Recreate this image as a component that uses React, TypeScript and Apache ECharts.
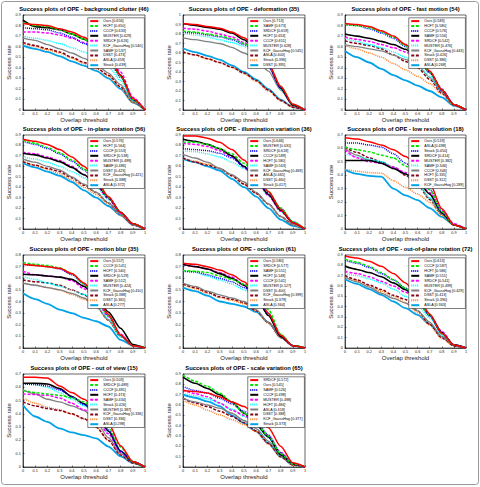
import React, { useEffect, useRef } from "react";
import * as echarts from "echarts";

// Overlap thresholds sampled along every success curve
const thresholds = [0, 0.1, 0.2, 0.3, 0.4, 0.5, 0.6, 0.7, 0.8, 0.9, 1];

// ---- background clutter ----
const clutterNames = ["Ours", "HCFT", "CCCF", "MUSTER", "SRDCF", "KCF_GaussHog", "SAMF", "DSST", "ASLA", "Struck"];
const clutterScores = [0.656, 0.65, 0.633, 0.629, 0.626, 0.54, 0.537, 0.473, 0.459, 0.439];
const clutterCurves = [
  [0.82, 0.81, 0.8, 0.77, 0.74, 0.69, 0.62, 0.51, 0.33, 0.11, 0],
  [0.83, 0.8, 0.79, 0.76, 0.72, 0.67, 0.6, 0.49, 0.32, 0.1, 0],
  [0.78, 0.77, 0.76, 0.73, 0.69, 0.63, 0.57, 0.47, 0.31, 0.1, 0],
  [0.85, 0.79, 0.78, 0.76, 0.72, 0.67, 0.6, 0.5, 0.33, 0.1, 0],
  [0.74, 0.74, 0.73, 0.71, 0.68, 0.64, 0.58, 0.5, 0.36, 0.12, 0],
  [0.7, 0.68, 0.66, 0.63, 0.59, 0.55, 0.49, 0.41, 0.28, 0.09, 0],
  [0.68, 0.66, 0.62, 0.58, 0.54, 0.49, 0.43, 0.35, 0.24, 0.08, 0],
  [0.64, 0.61, 0.58, 0.55, 0.5, 0.45, 0.4, 0.33, 0.22, 0.08, 0],
  [0.63, 0.6, 0.57, 0.54, 0.49, 0.44, 0.39, 0.32, 0.21, 0.07, 0],
  [0.61, 0.58, 0.55, 0.51, 0.46, 0.42, 0.37, 0.3, 0.2, 0.07, 0],
];

// ---- deformation ----
const deformNames = ["Ours", "SAMF", "SRDCF", "HCFT", "CCCF", "MUSTER", "KCF_GaussHog", "ASLA", "Struck", "DSST"];
const deformScores = [0.713, 0.673, 0.659, 0.653, 0.651, 0.628, 0.545, 0.4, 0.396, 0.395];
const deformCurves = [
  [0.91, 0.9, 0.88, 0.86, 0.82, 0.76, 0.66, 0.49, 0.25, 0.06, 0],
  [0.83, 0.82, 0.8, 0.78, 0.75, 0.7, 0.62, 0.47, 0.25, 0.06, 0],
  [0.82, 0.81, 0.79, 0.77, 0.74, 0.69, 0.61, 0.46, 0.24, 0.06, 0],
  [0.91, 0.89, 0.87, 0.85, 0.81, 0.74, 0.64, 0.47, 0.23, 0.05, 0],
  [0.86, 0.85, 0.83, 0.8, 0.77, 0.71, 0.62, 0.46, 0.23, 0.05, 0],
  [0.81, 0.79, 0.77, 0.74, 0.71, 0.67, 0.59, 0.45, 0.22, 0.05, 0],
  [0.76, 0.74, 0.72, 0.7, 0.66, 0.6, 0.53, 0.41, 0.21, 0.05, 0],
  [0.61, 0.58, 0.54, 0.5, 0.45, 0.39, 0.31, 0.21, 0.1, 0.03, 0],
  [0.61, 0.58, 0.54, 0.5, 0.45, 0.38, 0.3, 0.2, 0.1, 0.03, 0],
  [0.65, 0.61, 0.57, 0.53, 0.47, 0.4, 0.32, 0.22, 0.11, 0.03, 0],
];

// ---- fast motion ----
const fastNames = ["Ours", "HCFT", "CCCF", "SAMF", "SRDCF", "MUSTER", "KCF_GaussHog", "Struck", "DSST", "ASLA"];
const fastScores = [0.583, 0.58, 0.576, 0.556, 0.542, 0.476, 0.443, 0.426, 0.386, 0.268];
const fastCurves = [
  [0.82, 0.81, 0.79, 0.75, 0.7, 0.62, 0.52, 0.37, 0.19, 0.05, 0],
  [0.81, 0.8, 0.78, 0.74, 0.69, 0.61, 0.51, 0.36, 0.19, 0.05, 0],
  [0.81, 0.8, 0.77, 0.73, 0.68, 0.6, 0.5, 0.35, 0.18, 0.05, 0],
  [0.72, 0.7, 0.68, 0.65, 0.62, 0.575, 0.49, 0.36, 0.19, 0.05, 0],
  [0.69, 0.67, 0.65, 0.62, 0.59, 0.55, 0.48, 0.36, 0.2, 0.05, 0],
  [0.68, 0.65, 0.62, 0.59, 0.55, 0.5, 0.43, 0.32, 0.18, 0.05, 0],
  [0.62, 0.6, 0.58, 0.56, 0.52, 0.48, 0.42, 0.31, 0.17, 0.05, 0],
  [0.655, 0.63, 0.61, 0.58, 0.52, 0.46, 0.4, 0.29, 0.16, 0.05, 0],
  [0.61, 0.58, 0.54, 0.5, 0.44, 0.38, 0.32, 0.25, 0.15, 0.04, 0],
  [0.56, 0.5, 0.45, 0.39, 0.33, 0.28, 0.23, 0.18, 0.12, 0.04, 0],
];

// ---- in-plane rotation ----
const inplaneNames = ["Ours", "HCFT", "CCCF", "SRDCF", "MUSTER", "SAMF", "DSST", "KCF_GaussHog", "Struck", "ASLA"];
const inplaneScores = [0.576, 0.564, 0.553, 0.538, 0.499, 0.486, 0.423, 0.421, 0.388, 0.372];
const inplaneCurves = [
  [0.86, 0.84, 0.81, 0.76, 0.69, 0.6, 0.47, 0.31, 0.16, 0.05, 0],
  [0.85, 0.82, 0.78, 0.73, 0.66, 0.575, 0.46, 0.3, 0.16, 0.05, 0],
  [0.84, 0.81, 0.77, 0.72, 0.65, 0.565, 0.45, 0.3, 0.16, 0.05, 0],
  [0.725, 0.71, 0.68, 0.645, 0.59, 0.52, 0.43, 0.3, 0.16, 0.05, 0],
  [0.735, 0.72, 0.69, 0.655, 0.6, 0.52, 0.42, 0.29, 0.15, 0.05, 0],
  [0.69, 0.67, 0.64, 0.6, 0.55, 0.49, 0.4, 0.28, 0.15, 0.05, 0],
  [0.67, 0.64, 0.6, 0.565, 0.5, 0.43, 0.35, 0.25, 0.14, 0.04, 0],
  [0.645, 0.61, 0.58, 0.55, 0.49, 0.42, 0.35, 0.25, 0.14, 0.04, 0],
  [0.65, 0.61, 0.57, 0.53, 0.47, 0.4, 0.33, 0.24, 0.13, 0.04, 0],
  [0.63, 0.59, 0.55, 0.51, 0.45, 0.37, 0.3, 0.22, 0.13, 0.04, 0],
];

// ---- illumination variation ----
const illumNames = ["Ours", "MUSTER", "SRDCF", "CCCF", "HCFT", "SAMF", "KCF_GaussHog", "ASLA", "DSST", "Struck"];
const illumScores = [0.646, 0.631, 0.618, 0.589, 0.58, 0.563, 0.469, 0.465, 0.46, 0.417];
const illumCurves = [
  [0.89, 0.89, 0.87, 0.83, 0.76, 0.66, 0.52, 0.36, 0.19, 0.06, 0],
  [0.83, 0.83, 0.81, 0.77, 0.72, 0.63, 0.51, 0.36, 0.2, 0.07, 0],
  [0.77, 0.76, 0.75, 0.725, 0.68, 0.6, 0.49, 0.35, 0.2, 0.07, 0],
  [0.86, 0.84, 0.81, 0.77, 0.7, 0.6, 0.48, 0.33, 0.18, 0.06, 0],
  [0.82, 0.81, 0.79, 0.75, 0.69, 0.59, 0.47, 0.32, 0.17, 0.06, 0],
  [0.75, 0.74, 0.72, 0.69, 0.64, 0.58, 0.47, 0.32, 0.17, 0.06, 0],
  [0.715, 0.68, 0.64, 0.58, 0.52, 0.45, 0.35, 0.24, 0.12, 0.04, 0],
  [0.68, 0.64, 0.61, 0.58, 0.51, 0.43, 0.34, 0.24, 0.12, 0.04, 0],
  [0.68, 0.65, 0.62, 0.58, 0.51, 0.43, 0.34, 0.24, 0.12, 0.04, 0],
  [0.67, 0.64, 0.6, 0.56, 0.48, 0.4, 0.31, 0.2, 0.09, 0.03, 0],
];

// ---- low resolution ----
const lowresNames = ["Ours", "ASLA", "Struck", "SRDCF", "MUSTER", "SAMF", "CCCF", "HCFT", "DSST", "KCF_GaussHog"];
const lowresScores = [0.519, 0.498, 0.45, 0.414, 0.382, 0.346, 0.346, 0.335, 0.312, 0.289];
const lowresCurves = [
  [0.68, 0.67, 0.65, 0.625, 0.59, 0.54, 0.47, 0.34, 0.15, 0.03, 0],
  [0.61, 0.59, 0.575, 0.55, 0.53, 0.47, 0.4, 0.29, 0.13, 0.03, 0],
  [0.64, 0.64, 0.625, 0.61, 0.56, 0.49, 0.42, 0.3, 0.13, 0.03, 0],
  [0.51, 0.51, 0.51, 0.49, 0.45, 0.41, 0.36, 0.26, 0.12, 0.03, 0],
  [0.59, 0.53, 0.5, 0.49, 0.46, 0.42, 0.36, 0.27, 0.14, 0.04, 0],
  [0.56, 0.54, 0.52, 0.5, 0.46, 0.41, 0.34, 0.23, 0.12, 0.03, 0],
  [0.6, 0.55, 0.51, 0.49, 0.46, 0.41, 0.34, 0.23, 0.11, 0.03, 0],
  [0.61, 0.57, 0.53, 0.5, 0.46, 0.4, 0.33, 0.22, 0.11, 0.03, 0],
  [0.445, 0.43, 0.42, 0.415, 0.36, 0.31, 0.26, 0.2, 0.1, 0.03, 0],
  [0.44, 0.41, 0.395, 0.39, 0.3, 0.25, 0.215, 0.155, 0.09, 0.03, 0],
];

// ---- motion blur ----
const blurNames = ["Ours", "CCCF", "HCFT", "SRDCF", "SAMF", "MUSTER", "KCF_GaussHog", "Struck", "DSST", "ASLA"];
const blurScores = [0.557, 0.541, 0.54, 0.529, 0.512, 0.424, 0.41, 0.388, 0.365, 0.277];
const blurCurves = [
  [0.72, 0.71, 0.7, 0.685, 0.64, 0.56, 0.44, 0.29, 0.11, 0.02, 0],
  [0.735, 0.72, 0.71, 0.69, 0.64, 0.55, 0.43, 0.28, 0.11, 0.02, 0],
  [0.72, 0.71, 0.7, 0.68, 0.63, 0.55, 0.43, 0.28, 0.11, 0.02, 0],
  [0.635, 0.63, 0.62, 0.61, 0.59, 0.53, 0.44, 0.31, 0.17, 0.03, 0],
  [0.66, 0.63, 0.62, 0.61, 0.58, 0.51, 0.41, 0.27, 0.12, 0.02, 0],
  [0.615, 0.59, 0.56, 0.53, 0.5, 0.46, 0.38, 0.25, 0.1, 0.02, 0],
  [0.557, 0.54, 0.52, 0.5, 0.47, 0.43, 0.36, 0.24, 0.1, 0.02, 0],
  [0.585, 0.57, 0.56, 0.54, 0.5, 0.46, 0.36, 0.24, 0.1, 0.02, 0],
  [0.56, 0.54, 0.52, 0.5, 0.46, 0.42, 0.35, 0.24, 0.1, 0.02, 0],
  [0.47, 0.42, 0.38, 0.33, 0.3, 0.26, 0.23, 0.185, 0.07, 0.02, 0],
];

// ---- occlusion ----
const occlNames = ["Ours", "SRDCF", "SAMF", "HCFT", "CCCF", "MUSTER", "DSST", "KCF_GaussHog", "Struck", "ASLA"];
const occlScores = [0.58, 0.577, 0.551, 0.548, 0.541, 0.527, 0.4, 0.399, 0.379, 0.364];
const occlCurves = [
  [0.73, 0.72, 0.7, 0.67, 0.63, 0.57, 0.47, 0.3, 0.11, 0.02, 0],
  [0.665, 0.66, 0.65, 0.62, 0.59, 0.55, 0.47, 0.33, 0.12, 0.02, 0],
  [0.66, 0.655, 0.63, 0.6, 0.57, 0.52, 0.44, 0.3, 0.11, 0.02, 0],
  [0.72, 0.7, 0.68, 0.64, 0.6, 0.54, 0.44, 0.28, 0.1, 0.02, 0],
  [0.715, 0.7, 0.68, 0.65, 0.61, 0.54, 0.44, 0.28, 0.1, 0.02, 0],
  [0.665, 0.65, 0.62, 0.585, 0.55, 0.5, 0.42, 0.29, 0.1, 0.02, 0],
  [0.557, 0.53, 0.49, 0.457, 0.43, 0.4, 0.33, 0.22, 0.09, 0.02, 0],
  [0.55, 0.52, 0.48, 0.44, 0.42, 0.39, 0.32, 0.22, 0.09, 0.02, 0],
  [0.545, 0.51, 0.47, 0.435, 0.41, 0.38, 0.32, 0.21, 0.09, 0.02, 0],
  [0.52, 0.49, 0.45, 0.4, 0.38, 0.357, 0.31, 0.22, 0.1, 0.02, 0],
];

// ---- out-of-plane rotation ----
const outplaneNames = ["Ours", "CCCF", "HCFT", "SAMF", "SRDCF", "MUSTER", "KCF_GaussHog", "DSST", "Struck", "ASLA"];
const outplaneScores = [0.613, 0.587, 0.586, 0.551, 0.541, 0.499, 0.429, 0.413, 0.39, 0.363];
const outplaneCurves = [
  [0.89, 0.87, 0.84, 0.79, 0.72, 0.63, 0.5, 0.33, 0.14, 0.03, 0],
  [0.86, 0.83, 0.79, 0.73, 0.66, 0.58, 0.47, 0.32, 0.14, 0.03, 0],
  [0.85, 0.82, 0.78, 0.72, 0.66, 0.58, 0.46, 0.31, 0.14, 0.03, 0],
  [0.79, 0.76, 0.73, 0.69, 0.63, 0.565, 0.46, 0.32, 0.15, 0.03, 0],
  [0.74, 0.72, 0.69, 0.645, 0.6, 0.54, 0.45, 0.32, 0.16, 0.03, 0],
  [0.717, 0.7, 0.67, 0.63, 0.57, 0.5, 0.41, 0.29, 0.13, 0.03, 0],
  [0.685, 0.64, 0.59, 0.53, 0.48, 0.435, 0.36, 0.25, 0.11, 0.03, 0],
  [0.7, 0.66, 0.61, 0.565, 0.51, 0.47, 0.36, 0.23, 0.1, 0.02, 0],
  [0.69, 0.65, 0.6, 0.55, 0.5, 0.44, 0.34, 0.22, 0.09, 0.02, 0],
  [0.665, 0.62, 0.57, 0.515, 0.45, 0.385, 0.32, 0.23, 0.11, 0.03, 0],
];

// ---- out of view ----
const outviewNames = ["Ours", "SRDCF", "CCCF", "HCFT", "SAMF", "Struck", "MUSTER", "KCF_GaussHog", "DSST", "ASLA"];
const outviewScores = [0.503, 0.489, 0.481, 0.473, 0.434, 0.426, 0.387, 0.336, 0.336, 0.298];
const outviewCurves = [
  [0.675, 0.675, 0.67, 0.61, 0.56, 0.51, 0.44, 0.33, 0.16, 0.04, 0],
  [0.575, 0.56, 0.55, 0.54, 0.52, 0.49, 0.42, 0.3, 0.15, 0.04, 0],
  [0.625, 0.62, 0.61, 0.58, 0.53, 0.47, 0.4, 0.28, 0.12, 0.04, 0],
  [0.63, 0.63, 0.625, 0.59, 0.53, 0.475, 0.4, 0.27, 0.12, 0.04, 0],
  [0.55, 0.545, 0.54, 0.52, 0.48, 0.43, 0.36, 0.25, 0.11, 0.04, 0],
  [0.63, 0.62, 0.6, 0.56, 0.51, 0.46, 0.38, 0.25, 0.11, 0.04, 0],
  [0.58, 0.55, 0.51, 0.49, 0.46, 0.425, 0.34, 0.22, 0.1, 0.04, 0],
  [0.49, 0.46, 0.44, 0.425, 0.4, 0.365, 0.3, 0.2, 0.09, 0.03, 0],
  [0.52, 0.48, 0.45, 0.43, 0.4, 0.36, 0.3, 0.2, 0.09, 0.03, 0],
  [0.465, 0.38, 0.34, 0.29, 0.26, 0.24, 0.215, 0.154, 0.08, 0.03, 0],
];

// ---- scale variation ----
const scaleNames = ["SRDCF", "Ours", "SAMF", "CCCF", "MUSTER", "HCFT", "ASLA", "DSST", "KCF_GaussHog", "Struck"];
const scaleScores = [0.572, 0.545, 0.526, 0.498, 0.498, 0.484, 0.418, 0.388, 0.377, 0.373];
const scaleCurves = [
  [0.74, 0.73, 0.715, 0.68, 0.63, 0.585, 0.5, 0.38, 0.2, 0.04, 0],
  [0.89, 0.83, 0.78, 0.715, 0.63, 0.52, 0.42, 0.3, 0.13, 0.03, 0],
  [0.78, 0.74, 0.715, 0.665, 0.61, 0.54, 0.44, 0.31, 0.14, 0.03, 0],
  [0.87, 0.81, 0.76, 0.7, 0.63, 0.52, 0.41, 0.29, 0.12, 0.03, 0],
  [0.745, 0.71, 0.68, 0.62, 0.55, 0.5, 0.42, 0.3, 0.14, 0.03, 0],
  [0.715, 0.69, 0.66, 0.62, 0.56, 0.49, 0.4, 0.28, 0.12, 0.03, 0],
  [0.665, 0.63, 0.6, 0.57, 0.52, 0.45, 0.37, 0.25, 0.11, 0.03, 0],
  [0.665, 0.62, 0.585, 0.54, 0.49, 0.43, 0.35, 0.23, 0.1, 0.02, 0],
  [0.645, 0.6, 0.55, 0.505, 0.46, 0.41, 0.34, 0.22, 0.1, 0.02, 0],
  [0.7, 0.67, 0.635, 0.59, 0.5, 0.425, 0.345, 0.23, 0.1, 0.02, 0],
];

const attributes = [
  "background clutter (46)",
  "deformation (35)",
  "fast motion (54)",
  "in-plane rotation (56)",
  "illumination variation (36)",
  "low resolution (18)",
  "motion blur (35)",
  "occlusion (61)",
  "out-of-plane rotation (72)",
  "out of view (15)",
  "scale variation (65)",
];
const yMaxima = [0.9, 1, 0.9, 0.9, 0.9, 0.7, 0.8, 0.8, 0.9, 0.7, 0.9];

const panelNames = [clutterNames, deformNames, fastNames, inplaneNames, illumNames, lowresNames, blurNames, occlNames, outplaneNames, outviewNames, scaleNames];
const panelScores = [clutterScores, deformScores, fastScores, inplaneScores, illumScores, lowresScores, blurScores, occlScores, outplaneScores, outviewScores, scaleScores];
const panelCurves = [clutterCurves, deformCurves, fastCurves, inplaneCurves, illumCurves, lowresCurves, blurCurves, occlCurves, outplaneCurves, outviewCurves, scaleCurves];

// Rank-ordered line styles (OTB toolkit palette)
const RANK_STYLES: { color: string; type: any; width: number }[] = [
  { color: "#ff0000", type: "solid", width: 1.5 },
  { color: "#00e600", type: [3, 1.6], width: 1.5 },
  { color: "#0000ff", type: [1, 1], width: 1.5 },
  { color: "#000000", type: "solid", width: 1.6 },
  { color: "#ff00ff", type: [3, 1.6], width: 1.5 },
  { color: "#00ffff", type: [1, 1], width: 1.5 },
  { color: "#808080", type: "solid", width: 1.3 },
  { color: "#880015", type: [3, 1.6], width: 1.5 },
  { color: "#ff7f27", type: [1, 1], width: 1.5 },
  { color: "#00a2e8", type: "solid", width: 1.8 },
];

const COL_LEFT = [23, 183, 345];
const COL_RIGHT = [145, 305, 466];
const ROW_TOP = [15, 135, 255, 374];
const ROW_BOTTOM = [110, 229, 348, 467];
const W = 480;
const H = 487;
const FONT = "'Liberation Sans', Arial, Helvetica, sans-serif";

function buildOption() {
  const title: any[] = [];
  const grid: any[] = [];
  const xAxis: any[] = [];
  const yAxis: any[] = [];
  const legend: any[] = [];
  const series: any[] = [];
  const fmt = (v: number) => String(Math.round(v * 10) / 10);

  attributes.forEach((attr, i) => {
    const col = i % 3;
    const row = Math.floor(i / 3);
    const left = COL_LEFT[col];
    const right = COL_RIGHT[col];
    const top = ROW_TOP[row];
    const bottom = ROW_BOTTOM[row];

    title.push({
      text: "Success plots of OPE - " + attr,
      left: (left + right) / 2,
      top: top - 9,
      textAlign: "center",
      padding: 0,
      textStyle: { fontSize: 5.8, fontWeight: "bold", color: "#000", fontFamily: FONT },
    });

    grid.push({
      left,
      top,
      width: right - left,
      height: bottom - top,
      show: true,
      borderColor: "#000",
      borderWidth: 0.6,
      backgroundColor: "#fff",
    });

    xAxis.push({
      type: "value",
      gridIndex: i,
      min: 0,
      max: 1,
      interval: 0.1,
      name: "Overlap threshold",
      nameLocation: "middle",
      nameGap: 6.5,
      nameTextStyle: { fontSize: 6, color: "#222", fontFamily: FONT },
      axisLine: { show: true, lineStyle: { color: "#000", width: 0.6 } },
      axisTick: { show: true, inside: true, length: 1.5, lineStyle: { color: "#000", width: 0.5 } },
      axisLabel: { fontSize: 3.8, margin: 2.2, color: "#222", fontFamily: FONT, formatter: fmt },
      splitLine: { show: false },
    });

    yAxis.push({
      type: "value",
      gridIndex: i,
      min: 0,
      max: yMaxima[i],
      interval: 0.1,
      name: "Success rate",
      nameLocation: "middle",
      nameGap: 9,
      nameRotate: 90,
      nameTextStyle: { fontSize: 6, color: "#222", fontFamily: FONT },
      axisLine: { show: true, lineStyle: { color: "#000", width: 0.6 } },
      axisTick: { show: true, inside: true, length: 1.5, lineStyle: { color: "#000", width: 0.5 } },
      axisLabel: { fontSize: 3.8, margin: 2.2, color: "#222", fontFamily: FONT, formatter: fmt },
      splitLine: { show: false },
    });

    const names = panelNames[i];
    const scores = panelScores[i];
    const curves = panelCurves[i];
    const seriesNames = names.map((n, k) => `${n} [${scores[k].toFixed(3)}]#${i}`);

    legend.push({
      orient: "vertical",
      right: W - right + 0.6,
      top: top + 2.8,
      data: seriesNames,
      formatter: (n: string) => n.split("#")[0],
      itemWidth: 8,
      itemHeight: 4,
      itemGap: 0.7,
      padding: [1.2, 2, 1.2, 1.5],
      backgroundColor: "#fff",
      borderColor: "#000",
      borderWidth: 0.5,
      selectedMode: false,
      itemStyle: { opacity: 0, borderWidth: 0 },
      textStyle: { fontSize: 3.7, color: "#000", fontFamily: FONT, lineHeight: 4.2 },
    });

    curves.forEach((vals, k) => {
      const st = RANK_STYLES[k];
      series.push({
        type: "line",
        name: seriesNames[k],
        xAxisIndex: i,
        yAxisIndex: i,
        data: thresholds.map((t, j) => [t, vals[j]]),
        symbol: "none",
        showSymbol: false,
        smooth: 0.25,
        smoothMonotone: "x",
        z: 2 + (10 - k) * 0.01,
        color: st.color,
        itemStyle: { color: st.color, opacity: 0 },
        lineStyle: { color: st.color, type: st.type, width: st.width, opacity: 1 },
        silent: true,
      });
    });
  });

  return {
    animation: false,
    backgroundColor: "#fff",
    textStyle: { fontFamily: FONT },
    title,
    grid,
    xAxis,
    yAxis,
    legend,
    series,
    graphic: [
      {
        type: "rect",
        shape: { x: 1.5, y: 1.5, width: W - 3, height: H - 4, r: 3 },
        style: { fill: "none", stroke: "#9a9a9a", lineWidth: 1 },
        silent: true,
        z: 100,
      },
    ],
  };
}

export default function App() {
  const ref = useRef<HTMLDivElement>(null);
  useEffect(() => {
    if (!ref.current) return;
    const chart = echarts.init(ref.current, null, { renderer: "svg" });
    chart.setOption(buildOption() as any);
    return () => chart.dispose();
  }, []);
  return (
    <div
      ref={ref}
      style={{ position: "absolute", left: 0, top: 0, width: W, height: H, background: "#fff" }}
    />
  );
}
